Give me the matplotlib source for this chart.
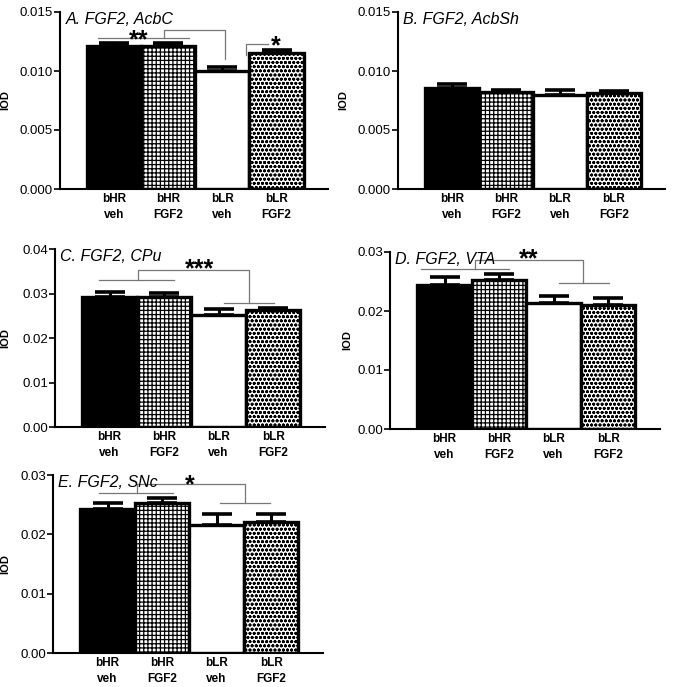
import matplotlib
matplotlib.use('Agg')
import matplotlib.pyplot as plt
import numpy as np

plt.rcParams['font.family'] = ['Liberation Sans', 'DejaVu Sans']
plt.rcParams['hatch.linewidth'] = 0.9

groups = ['bHR\nveh', 'bHR\nFGF2', 'bLR\nveh', 'bLR\nFGF2']

# means and SEM
acbc = [0.0121, 0.0121, 0.0100, 0.01155]
acbc_err = [0.00025, 0.00025, 0.00036, 0.0002]
acbsh = [0.0086, 0.0082, 0.0080, 0.0081]
acbsh_err = [0.0003, 0.0002, 0.0004, 0.0002]
cpu = [0.0292, 0.0292, 0.0252, 0.0264]
cpu_err = [0.0012, 0.0010, 0.0013, 0.0004]
vta = [0.0244, 0.0252, 0.0213, 0.0210]
vta_err = [0.0013, 0.0011, 0.0013, 0.0012]
snc = [0.0242, 0.0252, 0.0216, 0.0221]
snc_err = [0.0010, 0.0010, 0.0018, 0.0013]

titles = ['A. FGF2, AcbC', 'B. FGF2, AcbSh', 'C. FGF2, CPu', 'D. FGF2, VTA', 'E. FGF2, SNc']
yticks_small = [0.000, 0.005, 0.010, 0.015]
yticks_large = [0.00, 0.01, 0.02, 0.03, 0.04]
yticks_mid = [0.00, 0.01, 0.02, 0.03]

faces = ['black', 'white', 'white', 'white']
hatches = [None, '++++', None, 'oooo']

W, H = 674, 687
fig = plt.figure(figsize=(W / 100, H / 100), dpi=100)


def make_ax(l, r, t, b):
    return fig.add_axes([l / W, 1 - b / H, (r - l) / W, (b - t) / H])


def panel(ax, vals, errs, title, ticks, fmt, label_off):
    x = np.arange(4)
    for i in range(4):
        ax.bar(x[i], vals[i], width=1.0, color=faces[i], edgecolor='black',
               hatch=hatches[i], linewidth=2.4, zorder=2)
    ax.errorbar(x, vals, yerr=[np.zeros(4), errs], fmt='none', ecolor='black',
                elinewidth=2.2, capsize=11, capthick=2.6, zorder=3)
    ax.set_xlim(-1, 3.95)
    ax.set_ylim(0, ticks[-1])
    ax.set_yticks(ticks)
    ax.set_yticklabels([fmt.format(t) for t in ticks], fontsize=9.5)
    ax.set_xticks(x)
    ax.set_xticklabels(groups, fontsize=8.5, fontweight='bold', linespacing=1.4)
    ax.tick_params(axis='x', length=0, pad=3)
    ax.tick_params(axis='y', length=4, width=1.2, direction='out', pad=1)
    for s in ['top', 'right']:
        ax.spines[s].set_visible(False)
    ax.spines['left'].set_linewidth(1.5)
    ax.spines['bottom'].set_linewidth(1.5)
    ax.set_ylabel('IOD', fontsize=8, fontweight='bold')
    w = ax.get_position().width * W
    ax.yaxis.set_label_coords(-label_off / w, 0.5)
    ax.text(0.02, 1.0, title, transform=ax.transAxes, fontsize=11.5,
            fontstyle='italic', va='top', ha='left')


def bracket(ax, pts, color='#777777'):
    xs, ys = zip(*pts)
    ax.plot(xs, ys, color=color, lw=0.9, zorder=1, clip_on=False)


# A
ax = make_ax(60, 328, 12, 189)
panel(ax, acbc, acbc_err, titles[0], yticks_small, '{:.3f}', 50)
bracket(ax, [(-0.3, 0.0128), (1.38, 0.0128)])
bracket(ax, [(0.92, 0.0128), (0.92, 0.01347), (2.04, 0.01347), (2.04, 0.0110)])
ax.text(0.45, 0.0126, '**', fontsize=18, fontweight='bold', ha='center', va='center')
bracket(ax, [(2.43, 0.01139), (2.43, 0.0123), (2.84, 0.0123)])
ax.text(2.99, 0.0121, '*', fontsize=18, fontweight='bold', ha='center', va='center')

# B
ax = make_ax(398, 665, 12, 189)
panel(ax, acbsh, acbsh_err, titles[1], yticks_small, '{:.3f}', 50)

# C
ax = make_ax(55, 325, 249, 427)
panel(ax, cpu, cpu_err, titles[2], yticks_large, '{:.2f}', 45)
bracket(ax, [(-0.2, 0.0331), (1.18, 0.0331)])
bracket(ax, [(0.53, 0.0331), (0.53, 0.0352), (2.56, 0.0352), (2.56, 0.0278)])
bracket(ax, [(2.1, 0.0278), (3.01, 0.0278)])
ax.text(1.65, 0.0354, '***', fontsize=18, fontweight='bold', ha='center', va='center')

# D
ax = make_ax(390, 660, 252, 429)
panel(ax, vta, vta_err, titles[3], yticks_mid, '{:.2f}', 38)
bracket(ax, [(-0.44, 0.0271), (1.19, 0.0271)])
bracket(ax, [(0.55, 0.0271), (0.55, 0.0287), (2.54, 0.0287), (2.54, 0.0248)])
bracket(ax, [(2.09, 0.0248), (3.01, 0.0248)])
ax.text(1.55, 0.0287, '**', fontsize=18, fontweight='bold', ha='center', va='center')

# E
ax = make_ax(53, 323, 475, 653)
panel(ax, snc, snc_err, titles[4], yticks_mid, '{:.2f}', 43)
bracket(ax, [(-0.16, 0.0269), (1.2, 0.0269)])
bracket(ax, [(0.54, 0.0269), (0.54, 0.0284), (2.52, 0.0284), (2.52, 0.0252)])
bracket(ax, [(2.06, 0.0252), (2.98, 0.0252)])
ax.text(1.5, 0.0283, '*', fontsize=18, fontweight='bold', ha='center', va='center')

fig.savefig('out.png', dpi=100)
